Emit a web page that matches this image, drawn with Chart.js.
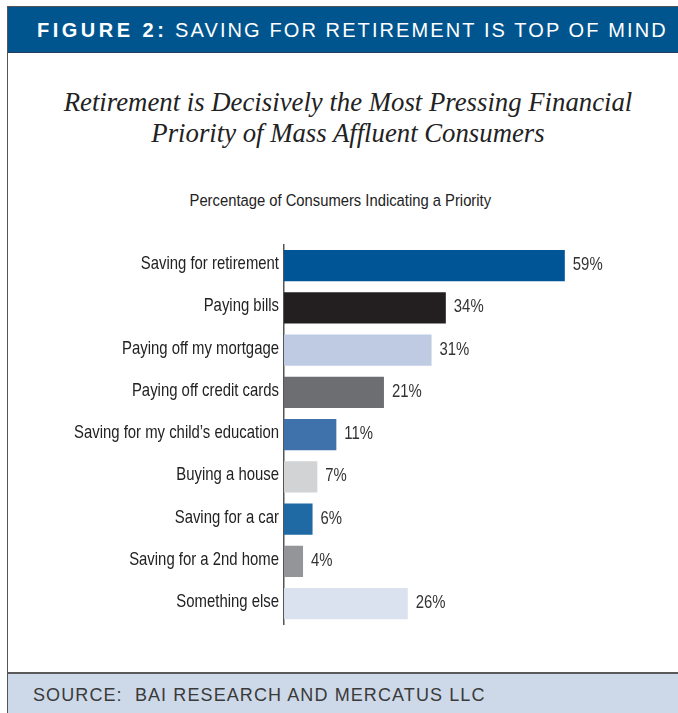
<!DOCTYPE html>
<html>
<head>
<meta charset="utf-8">
<script src="https://cdn.jsdelivr.net/npm/chart.js@4/dist/chart.umd.min.js"></script>
<style>
  html, body { margin: 0; padding: 0; background: #fff; }
  #page { position: relative; width: 678px; height: 713px; overflow: hidden; background: #fff; }
  #frame { position: absolute; left: 7px; top: 6px; width: 680px; height: 720px; border-left: 1px solid #555; border-top: 1px solid #555; }
  #header {
    position: absolute; left: 8px; top: 7px; width: 670px; height: 45px;
    background: #00558f; border-bottom: 1.5px solid #23405e;
    color: #fff; font-family: "Liberation Sans", Arial, sans-serif; font-size: 20px;
    line-height: 46px; white-space: nowrap; letter-spacing: 2.1px;
  }
  #header span.fig { font-weight: bold; letter-spacing: 3.5px; }
  #header .inner { position: absolute; left: 29px; top: 0; }
  #title {
    position: absolute; left: 8px; width: 680px; top: 87px; text-align: center;
    font-family: "Liberation Serif", "Times New Roman", serif; font-style: italic;
    font-size: 26.75px; line-height: 31px; color: #222;
  }
  #subtitle {
    position: absolute; left: 0; width: 680px; top: 190px; text-align: center;
    font-family: "Liberation Sans", Arial, sans-serif; font-size: 17.2px; color: #222;
  }
  #subtitle span { display: inline-block; transform: scaleX(0.86); transform-origin: center; white-space: nowrap; }
  #chartBox { position: absolute; left: 0; top: 230px; width: 678px; height: 410px; }
  #footer {
    position: absolute; left: 8px; top: 672px; width: 670px; height: 41px;
    background: #cdd9e8; border-top: 2px solid #5a5a5c;
    font-family: "Liberation Sans", Arial, sans-serif; font-size: 18px; color: #3a3a3a;
    line-height: 42px; letter-spacing: 1.1px; white-space: nowrap;
  }
  #footer .inner { position: absolute; left: 25px; top: 0; }
</style>
</head>
<body>
<div id="page">
  <div id="frame"></div>
  <div id="header"><div class="inner"><span class="fig">FIGURE 2:</span> SAVING FOR RETIREMENT IS TOP OF MIND</div></div>
  <div id="title">Retirement is Decisively the Most Pressing Financial<br>Priority of Mass Affluent Consumers</div>
  <div id="subtitle"><span>Percentage of Consumers Indicating a Priority</span></div>
  <div id="chartBox"><canvas id="priorityChart" width="678" height="410"></canvas></div>
  <div id="footer"><div class="inner">SOURCE:&nbsp; BAI RESEARCH AND MERCATUS LLC</div></div>
</div>
<script>
  const PRIORITIES = [
    'Saving for retirement',
    'Paying bills',
    'Paying off my mortgage',
    'Paying off credit cards',
    'Saving for my child\u2019s education',
    'Buying a house',
    'Saving for a car',
    'Saving for a 2nd home',
    'Something else'
  ];
  const SHARE_PCT = [59, 34, 31, 21, 11, 7, 6, 4, 26];
  const BAR_COLORS = [
    '#005596', '#231f20', '#bfcbe3', '#6d6e71', '#3f72ab',
    '#d1d3d4', '#1f6aa5', '#939598', '#dae2ef'
  ];

  // condensed look: regular sans squeezed horizontally
  const TEXT_FONT = '18.5px "Liberation Sans", Arial, sans-serif';
  const SQUEEZE = 0.805;

  function squeezedText(ctx, text, x, y, align) {
    ctx.save();
    ctx.translate(x, y);
    ctx.scale(SQUEEZE, 1);
    ctx.textAlign = align;
    ctx.fillText(text, 0, 0);
    ctx.restore();
  }

  // category names left of the axis, "NN%" past each bar end
  const barText = {
    id: 'barText',
    afterDatasetsDraw(chart) {
      const ctx = chart.ctx;
      const yScale = chart.scales.y;
      const meta = chart.getDatasetMeta(0);
      ctx.save();
      ctx.font = TEXT_FONT;
      ctx.textBaseline = 'middle';
      ctx.fillStyle = '#222';
      PRIORITIES.forEach((name, i) => {
        squeezedText(ctx, name, yScale.right - 5, yScale.getPixelForTick(i) - 1.5, 'right');
      });
      ctx.fillStyle = '#333';
      meta.data.forEach((bar, i) => {
        squeezedText(ctx, SHARE_PCT[i] + '%', bar.x + 8, bar.y - 0.5, 'left');
      });
      ctx.restore();
    }
  };

  new Chart(document.getElementById('priorityChart'), {
    type: 'bar',
    data: {
      labels: PRIORITIES,
      datasets: [{
        data: SHARE_PCT,
        backgroundColor: BAR_COLORS,
        borderWidth: 0,
        barPercentage: 0.734,
        categoryPercentage: 1
      }]
    },
    options: {
      indexAxis: 'y',
      responsive: false,
      animation: false,
      layout: { padding: { top: 14.5, bottom: 15.25, right: 18, left: 0 } },
      plugins: { legend: { display: false }, tooltip: { enabled: false } },
      scales: {
        x: { display: false, min: 0, max: 79 },
        y: {
          grid: { display: false, drawTicks: false },
          border: { display: true, color: '#555', width: 1.5 },
          ticks: { display: false },
          afterFit(scale) { scale.width = 284; }
        }
      }
    },
    plugins: [barText]
  });
</script>
</body>
</html>
